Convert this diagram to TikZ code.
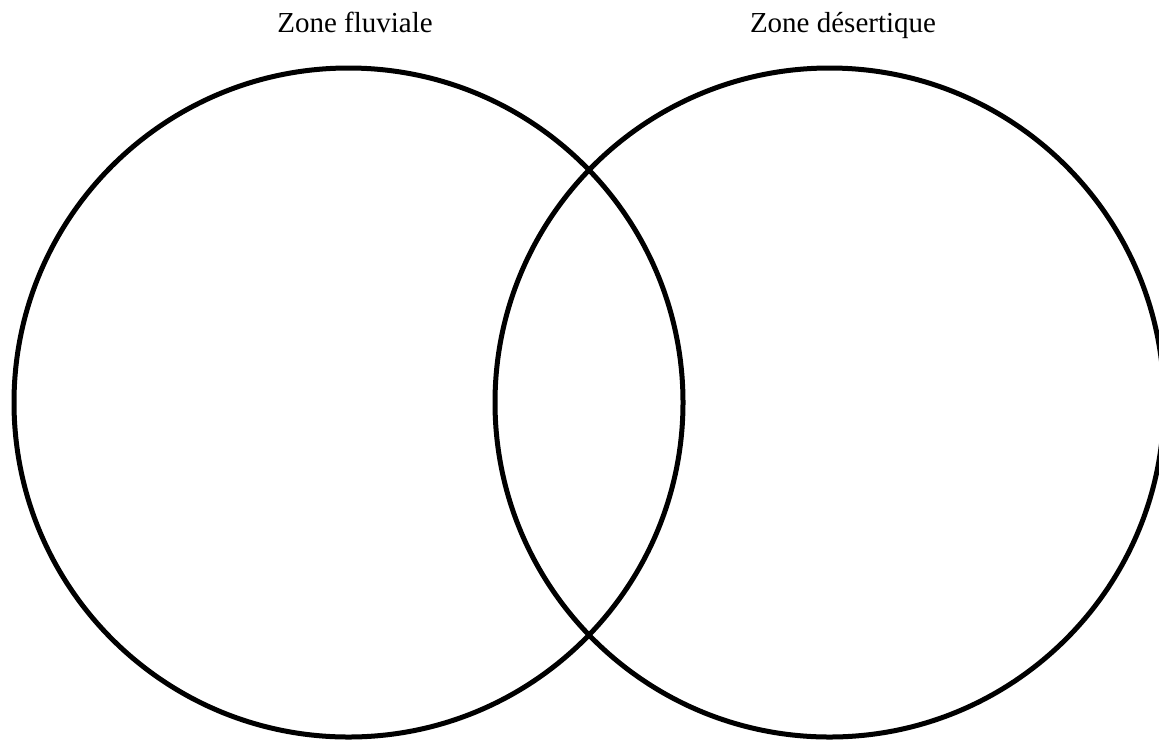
\documentclass[tikz,border=0pt]{standalone}
\usepackage{fontspec}
\setmainfont{Liberation Serif}
\usepackage{tikz}
\usetikzlibrary{positioning}
\tikzset{
  zone/.style={circle,draw=black,line width=2.5pt,inner sep=0pt,minimum size=334.5pt},
  zonelabel/.style={font=\fontsize{14.5}{17}\selectfont,inner sep=0pt,anchor=base}
}
\begin{document}
\begin{tikzpicture}[x=0.5pt,y=-0.5pt]
  \useasboundingbox (0,0) rectangle (1159,740);
  \node[zone] (fluviale) at (348.5,402.5) {};
  \node[zone] (desert) at (829.5,402.5) {};
  \node[zonelabel] (lblfluv) at (355,32) {Zone fluviale};
  \node[zonelabel] (lbldesert) at (843,32) {Zone désertique};
\end{tikzpicture}
\end{document}
